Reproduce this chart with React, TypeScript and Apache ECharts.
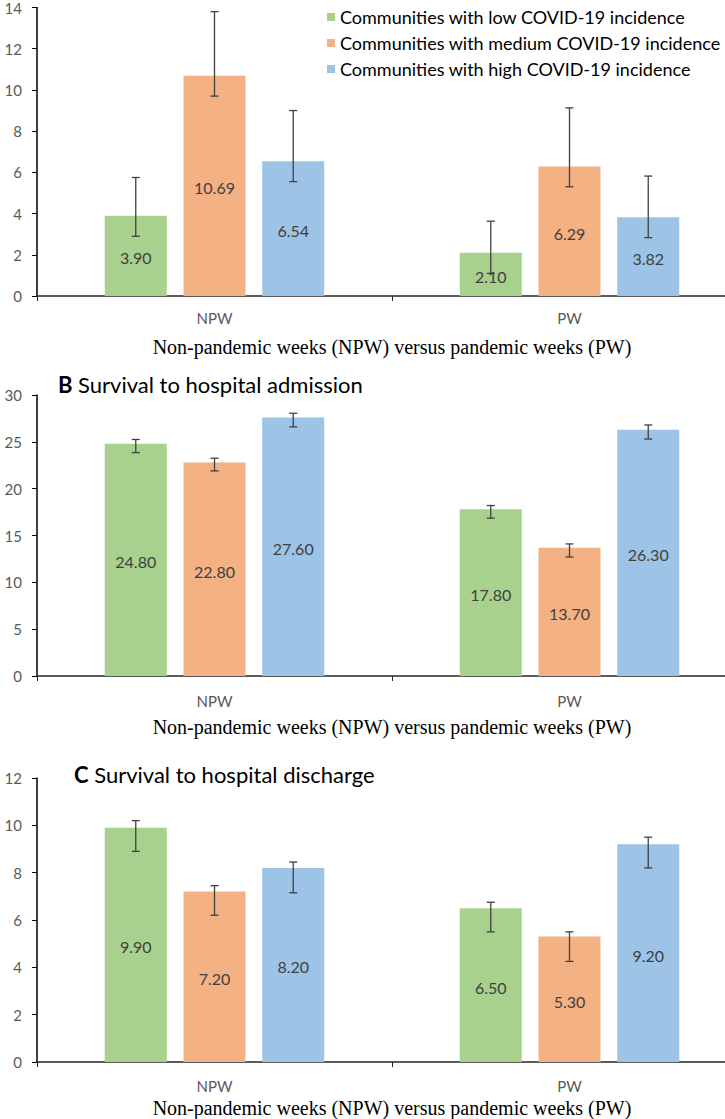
import React, { useEffect, useRef } from "react";
import * as echarts from "echarts";

const categories = ["NPW", "PW"];
const seriesNames = [
  "Communities with low COVID-19 incidence",
  "Communities with medium COVID-19 incidence",
  "Communities with high COVID-19 incidence",
];
const axisTitle = "Non-pandemic weeks (NPW) versus pandemic weeks (PW)";
const panelTitles = ["", "Survival to hospital admission", "Survival to hospital discharge"];
const panelLetters = ["", "B", "C"];

// Panel A
const aLow = [3.9, 2.1];
const aMedium = [10.69, 6.29];
const aHigh = [6.54, 3.82];
const aLowErr = [[2.9, 5.75], [1.1, 3.63]];
const aMediumErr = [[9.7, 13.8], [5.3, 9.13]];
const aHighErr = [[5.55, 9.0], [2.83, 5.82]];

// Panel B
const bLow = [24.8, 17.8];
const bMedium = [22.8, 13.7];
const bHigh = [27.6, 26.3];
const bLowErr = [[23.85, 25.25], [16.85, 18.2]];
const bMediumErr = [[21.9, 23.25], [12.7, 14.1]];
const bHighErr = [[26.6, 28.05], [25.3, 26.8]];

// Panel C
const cLow = [9.9, 6.5];
const cMedium = [7.2, 5.3];
const cHigh = [8.2, 9.2];
const cLowErr = [[8.9, 10.2], [5.5, 6.75]];
const cMediumErr = [[6.2, 7.45], [4.25, 5.5]];
const cHighErr = [[7.15, 8.45], [8.2, 9.5]];

const yMax = [14, 30, 12];
const yInterval = [2, 5, 2];

const colors = ["#A9D18E", "#F4B183", "#9DC3E6"];
const BAR_W = 62;
const BAR_GAP = 0.27;

export default function App() {
  const ref = useRef<HTMLDivElement>(null);
  useEffect(() => {
    if (!ref.current) return;
    const chart = echarts.init(ref.current, null, { renderer: "svg" });

    const panels = [
      { vals: [aLow, aMedium, aHigh], errs: [aLowErr, aMediumErr, aHighErr] },
      { vals: [bLow, bMedium, bHigh], errs: [bLowErr, bMediumErr, bHighErr] },
      { vals: [cLow, cMedium, cHigh], errs: [cLowErr, cMediumErr, cHighErr] },
    ];
    const grids = [
      { left: 37, top: 0, width: 710, height: 296 },
      { left: 37, top: 395, width: 710, height: 281 },
      { left: 37, top: 778, width: 710, height: 284 },
    ];
    const nameGaps = [41, 41, 36];
    const catMargins = [14, 17, 16];

    const series: any[] = [];
    panels.forEach((p, g) => {
      p.vals.forEach((v, s) => {
        series.push({
          type: "bar",
          name: seriesNames[s],
          xAxisIndex: g,
          yAxisIndex: g,
          data: v,
          barWidth: BAR_W,
          barGap: BAR_GAP * 100 + "%",
          itemStyle: { color: colors[s] },
          label: {
            show: true,
            position: "inside",
            offset: [0, 2],
            color: "#404040",
            fontSize: 16,
            fontFamily: "Lato",
            formatter: (prm: any) => Number(prm.value).toFixed(2),
          },
        });
      });
      p.errs.forEach((e, s) => {
        const off = (s - 1) * BAR_W * (1 + BAR_GAP);
        series.push({
          type: "custom",
          xAxisIndex: g,
          yAxisIndex: g,
          silent: true,
          z: 10,
          data: e.map((r, i) => [i, r[0], r[1]]),
          encode: { x: 0, y: [1, 2] },
          renderItem: (params: any, api: any) => {
            const lo = api.coord([api.value(0), api.value(1)]);
            const hi = api.coord([api.value(0), api.value(2)]);
            const x = lo[0] + off;
            const st = { stroke: "#404040", lineWidth: 1.3 };
            return {
              type: "group",
              children: [
                { type: "line", shape: { x1: x, y1: lo[1], x2: x, y2: hi[1] }, style: st },
                { type: "line", shape: { x1: x - 4, y1: lo[1], x2: x + 4, y2: lo[1] }, style: st },
                { type: "line", shape: { x1: x - 4, y1: hi[1], x2: x + 4, y2: hi[1] }, style: st },
              ],
            };
          },
        });
      });
    });

    chart.setOption({
      animation: false,
      backgroundColor: "#ffffff",
      title: [1, 2].map((i) => ({
        text: "{b|" + panelLetters[i] + "} " + panelTitles[i],
        left: i === 1 ? 53 : 69,
        top: i === 1 ? 368 : 758,
        textStyle: {
          fontFamily: "Lato",
          fontSize: 22,
          fontWeight: "normal",
          color: "#000000",
          rich: { b: { fontFamily: "Lato", fontSize: 22, fontWeight: "bold", color: "#000000" } },
        },
      })),
      legend: {
        data: seriesNames,
        orient: "vertical",
        left: 322,
        top: 3,
        itemWidth: 8,
        itemHeight: 8,
        itemGap: 8,
        icon: "rect",
        textStyle: { fontFamily: "Lato", fontSize: 18, color: "#000000", lineHeight: 17 },
      },
      grid: grids,
      xAxis: grids.map((_, g) => ({
        type: "category",
        gridIndex: g,
        data: categories,
        axisLine: { show: true, lineStyle: { color: "#262626", width: 1.5 } },
        axisTick: { show: true, length: 5, lineStyle: { color: "#262626" } },
        axisLabel: { color: "#595959", fontSize: 15, fontFamily: "Lato", margin: catMargins[g] },
        name: axisTitle,
        nameLocation: "middle",
        nameGap: nameGaps[g],
        nameTextStyle: { fontFamily: "Liberation Serif", fontSize: 20, color: "#000000" },
      })),
      yAxis: grids.map((_, g) => ({
        type: "value",
        gridIndex: g,
        min: 0,
        max: yMax[g],
        interval: yInterval[g],
        axisLine: { show: true, lineStyle: { color: "#000000", width: 1.5 } },
        axisTick: { show: true, length: 5, lineStyle: { color: "#000000" } },
        splitLine: { show: false },
        axisLabel: { color: "#595959", fontSize: 15, fontFamily: "Lato", margin: 15 },
      })),
      series,
    });
    return () => chart.dispose();
  }, []);
  return (
    <div
      style={{ position: "absolute", left: 0, top: 0, width: 725, height: 1119, overflow: "hidden", background: "#fff" }}
    >
      <div ref={ref} style={{ width: 760, height: 1119 }} />
    </div>
  );
}
